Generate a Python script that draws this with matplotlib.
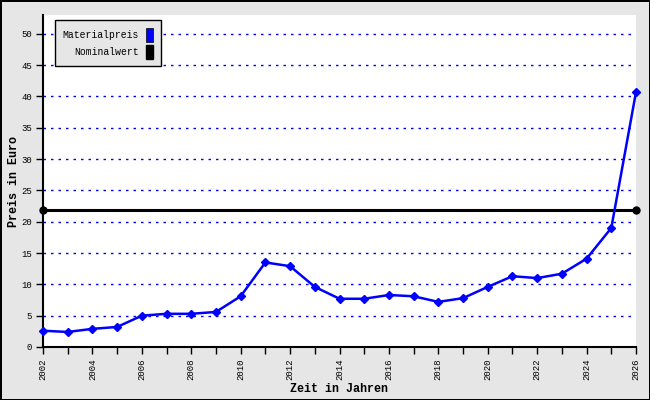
import matplotlib
matplotlib.use('Agg')
from matplotlib import pyplot as plt
from matplotlib.patches import Patch

years = list(range(2002, 2027))
material = [2.6, 2.4, 2.9, 3.2, 5.0, 5.3, 5.3, 5.6, 8.1, 13.5, 12.9, 9.6, 7.7,
            7.7, 8.3, 8.1, 7.2, 7.8, 9.6, 11.3, 11.0, 11.7, 14.1, 19.0, 40.7]
nominal_years = [2002, 2026]
nominal = [21.9, 21.9]
yticks = list(range(0, 55, 5))

plt.rcParams['font.family'] = ['Liberation Mono', 'DejaVu Sans Mono']

fig = plt.figure(figsize=(6.5, 4), dpi=100, facecolor='#e6e6e6',
                 edgecolor='black', linewidth=2)
ax = fig.add_axes([43/650, 53/400, 593/650, 332/400])
ax.set_facecolor('white')

# dotted grid
for y in yticks[1:]:
    ax.axhline(y, color='blue', lw=1, linestyle=(0, (1.8, 3.6)), zorder=1)

ax.plot(nominal_years, nominal, color='black', lw=2.2, marker='o', markersize=5,
        clip_on=False, zorder=3)
ax.plot(years, material, color='blue', lw=1.8, marker='D', markersize=4,
        clip_on=False, zorder=4)

ax.set_xlim(2002, 2026)
ax.set_ylim(0, 53)
ax.set_yticks(yticks)
ax.set_yticklabels([str(v) for v in yticks], fontsize=6.5)
ax.set_xticks(years)
ax.set_xticklabels([str(y) if y % 2 == 0 else '' for y in years], rotation=90, fontsize=6.5)
ax.tick_params(direction='out', length=5, width=1, color='black', pad=3)

for s in ['top', 'right']:
    ax.spines[s].set_visible(False)
for s in ['left', 'bottom']:
    ax.spines[s].set_linewidth(1.5)

ax.set_xlabel('Zeit in Jahren', fontsize=8.5, fontweight='bold')
ax.set_ylabel('Preis in Euro', fontsize=8.5, fontweight='bold')
ax.xaxis.set_label_coords(0.5, -0.108)
ax.yaxis.set_label_coords(-0.038, 0.5)

handles = [Patch(facecolor='blue', edgecolor='black', lw=0.5),
           Patch(facecolor='black', edgecolor='black')]
leg = ax.legend(handles, ['Materialpreis', 'Nominalwert'], loc='upper left',
                bbox_to_anchor=(0.02, 0.985), borderaxespad=0, markerfirst=False,
                fontsize=7, handlelength=0.72, handleheight=1.8, handletextpad=0.7,
                labelspacing=0.35, borderpad=0.8, fancybox=False,
                edgecolor='black', facecolor='#e6e6e6', framealpha=1)
leg.get_frame().set_linewidth(1)
for t in leg.get_texts():
    t.set_ha('right')
leg._legend_box.align = 'right'

plt.savefig('out.png', dpi=100, facecolor=fig.get_facecolor(), edgecolor='black')
